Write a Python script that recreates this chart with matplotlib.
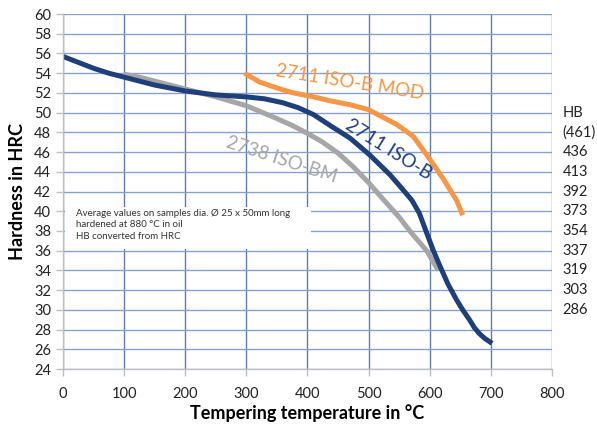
import matplotlib
matplotlib.use("Agg")
import matplotlib.pyplot as plt
from matplotlib.patches import Rectangle

plt.rcParams['font.family'] = ['Lato', 'DejaVu Sans']

# Data
iso_b_x = [0, 25, 50, 75, 100, 125, 150, 175, 200, 250, 300, 330, 360, 385, 410, 437, 470, 502,
           535, 556, 571, 583, 595, 606, 617, 630, 644, 655, 665, 673, 681, 690, 702]
iso_b_y = [55.7, 55.1, 54.5, 54.0, 53.6, 53.2, 52.8, 52.5, 52.2, 51.8, 51.6, 51.4, 51.0, 50.5,
           49.8, 48.7, 47.4, 45.7, 43.7, 42.2, 41.1, 39.8, 37.8, 36.0, 34.4, 32.6, 31.0, 29.9,
           29.0, 28.2, 27.6, 27.1, 26.6]

iso_bm_x = [100, 125, 150, 200, 250, 300, 350, 375, 400, 425, 450, 475, 500, 524, 550, 570, 595, 614]
iso_bm_y = [53.9, 53.6, 53.2, 52.4, 51.6, 50.7, 49.4, 48.7, 47.9, 47.0, 45.9, 44.5, 42.9, 41.2,
            39.4, 37.8, 36.0, 34.0]

iso_b_mod_x = [297, 322, 350, 377, 410, 437, 470, 500, 546, 573, 600, 622, 644, 654]
iso_b_mod_y = [54.0, 53.1, 52.5, 52.0, 51.6, 51.2, 50.8, 50.3, 48.8, 47.6, 45.3, 43.3, 41.1, 39.6]

x_ticks = [0, 100, 200, 300, 400, 500, 600, 700, 800]
y_ticks = list(range(24, 61, 2))
hb_values = ["HB", "(461)", "436", "413", "392", "373", "354", "337", "319", "303", "286"]
hb_positions = [50, 48, 46, 44, 42, 40, 38, 36, 34, 32, 30]

note_lines = ["Average values on samples dia. Ø 25 x 50mm long",
              "hardened at 880 °C in oil",
              "HB converted from HRC"]

blue = '#1f3f7a'
gray = '#a6a6a6'
orange = '#f79646'

fig = plt.figure(figsize=(5.97, 4.26), dpi=100)
ax = fig.add_axes([0.1055, 0.1338, 0.8191, 0.8332])
ax.set_xlim(0, 800)
ax.set_ylim(24, 60)
ax.set_xticks(x_ticks)
ax.set_yticks(y_ticks)

ax.set_axisbelow(True)
ax.grid(True, axis='y', color='#86a2cc', linewidth=1.0)
ax.grid(True, axis='x', color='#5f7daa', linewidth=1.0)

for s in ['top', 'right']:
    ax.spines[s].set_visible(False)
for s in ['left', 'bottom']:
    ax.spines[s].set_color('#bfbfbf')
    ax.spines[s].set_linewidth(1.0)
ax.tick_params(axis='both', colors='#bfbfbf', length=5, width=1.0, labelsize=10.5, labelcolor='#222222')
ax.tick_params(axis='x', pad=8)

# white box behind the note
ax.add_patch(Rectangle((3, 36.2), 403, 4.2, facecolor='white', edgecolor='none', zorder=1))
ax.text(22, 40.25, "\n".join(note_lines), fontsize=7, color='#333333', va='top', ha='left',
        linespacing=1.35, zorder=3)

lw = 3.6
ax.plot(iso_bm_x, iso_bm_y, color=gray, linewidth=lw, solid_capstyle='butt',
        solid_joinstyle='round', zorder=2)
ax.plot(iso_b_x, iso_b_y, color=blue, linewidth=lw, solid_capstyle='butt',
        solid_joinstyle='round', zorder=2.2)
ax.plot(iso_b_mod_x, iso_b_mod_y, color=orange, linewidth=lw, solid_capstyle='butt',
        solid_joinstyle='round', zorder=2.1)

ax.text(470, 53.1, "2711 ISO-B MOD", color=orange, fontsize=13.5, rotation=-9,
        ha='center', va='center', rotation_mode='anchor')
ax.text(532, 46.3, "2711 ISO-B", color=blue, fontsize=13.5, rotation=-32,
        ha='center', va='center', rotation_mode='anchor')
ax.text(357, 45.2, "2738 ISO-BM", color=gray, fontsize=13.5, rotation=-18,
        ha='center', va='center', rotation_mode='anchor')

for lab, yv in zip(hb_values, hb_positions):
    ax.text(817, yv, lab, fontsize=10.5, color='#222222', ha='left', va='center', clip_on=False)

ax.set_xlabel("Tempering temperature in °C", fontsize=13, fontweight='bold', labelpad=2)
ax.set_ylabel("Hardness in HRC", fontsize=13, fontweight='bold', labelpad=6)

fig.savefig("out.png", dpi=100)
